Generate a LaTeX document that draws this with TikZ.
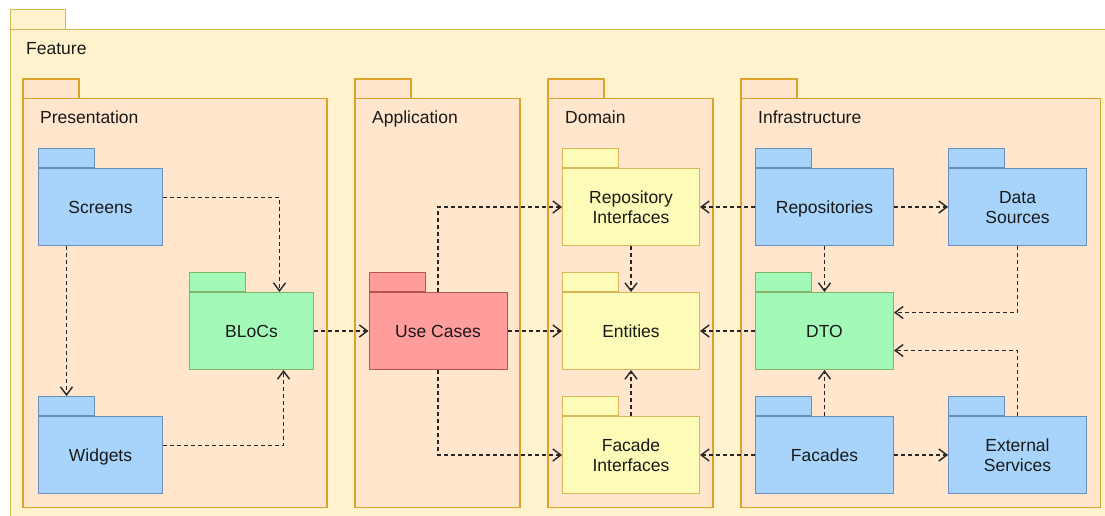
\documentclass[tikz,border=0pt]{standalone}
\usepackage{fontspec}
\setmainfont{Liberation Sans}
\usetikzlibrary{arrows.meta}

\definecolor{featfill}{HTML}{FFF2CC}
\definecolor{featline}{HTML}{D6B656}
\definecolor{layerfill}{HTML}{FFE6CC}
\definecolor{layerline}{HTML}{DCA22A}
\definecolor{bluefill}{HTML}{A8D4FC}
\definecolor{blueline}{HTML}{6C8EBF}
\definecolor{greenfill}{HTML}{A2F9B8}
\definecolor{greenline}{HTML}{82B366}
\definecolor{redfill}{HTML}{FF9C9C}
\definecolor{redline}{HTML}{B85450}
\definecolor{yellowfill}{HTML}{FCFCB8}
\definecolor{yellowline}{HTML}{D6B656}

\tikzset{
  bluepkg/.style={fill=bluefill,draw=blueline},
  greenpkg/.style={fill=greenfill,draw=greenline},
  redpkg/.style={fill=redfill,draw=redline},
  yellowpkg/.style={fill=yellowfill,draw=yellowline},
  twoline/.style={text height=32.1pt},
  dep/.style={draw=black!85,line width=1.4pt,dash pattern=on 4pt off 3pt,
    -{Straight Barb[length=8pt,width=12pt]}},
}

% package: [extra], style, name, left x, tab top y, width, label
\newcommand\pkg[7][]{%
  \node[#2,line width=1pt,minimum width=#6,minimum height=77,inner sep=0pt,
    text height=12.6pt,text depth=-5pt,align=center,anchor=north west,#1]
    (#3) at (#4,#5+19) {#7};
  \node[#2,line width=1pt,minimum width=56,minimum height=19,inner sep=0pt,
    anchor=south west] (#3-tab) at (#3.north west) {};
}

% layer: name, left x, right x, label
\newcommand\layer[4]{%
  \draw[fill=layerfill,draw=layerline,line width=1.1pt] (#2,79) rectangle (#2+56,98.5);
  \draw[fill=layerfill,draw=layerline,line width=1.1pt] (#2,98.5) rectangle (#3,507.5);
  \node[anchor=base west,inner sep=0pt] (#1) at (#2+17,124) {#4};
}

\begin{document}
\begin{tikzpicture}[x=1pt,y=-1pt,font=\fontsize{17.5}{19.5}\selectfont,text=black!90]
  \useasboundingbox (0,0) rectangle (1105,516);
  \begin{scope}
  \clip (0,0) rectangle (1105,516);
  % feature package
  \draw[fill=featfill,draw=featline,line width=1pt] (10,10) rectangle (65,29.5);
  \draw[fill=featfill,draw=featline,line width=1pt] (10,29.5) rectangle (1130,540);
  \end{scope}
  \node[anchor=base west,inner sep=0pt] (feature) at (26,54.5) {Feature};

  % layers
  \layer{pres}{23}{327}{Presentation}
  \layer{app}{355}{520}{Application}
  \layer{dom}{548}{713}{Domain}
  \layer{infra}{741}{1100.5}{Infrastructure}

  % presentation
  \pkg{bluepkg}{scr}{38}{149}{124}{Screens}
  \pkg{bluepkg}{wid}{38}{397}{124}{Widgets}
  \pkg{greenpkg}{bloc}{189}{273}{124}{BLoCs}

  % application
  \pkg{redpkg}{uc}{368.5}{273}{138}{Use Cases}

  % domain
  \pkg[twoline]{yellowpkg}{ri}{562}{149}{137}{Repository\\Interfaces}
  \pkg{yellowpkg}{ent}{562}{273}{137}{Entities}
  \pkg[twoline]{yellowpkg}{fi}{562}{397}{137}{Facade\\Interfaces}

  % infrastructure
  \pkg{bluepkg}{repo}{755}{149}{138}{Repositories}
  \pkg[twoline]{bluepkg}{ds}{948}{149}{138}{Data\\Sources}
  \pkg{greenpkg}{dto}{755}{273}{138}{DTO}
  \pkg{bluepkg}{fac}{755}{397}{138}{Facades}
  \pkg[twoline]{bluepkg}{ext}{948}{397}{138}{External\\Services}

  % dependencies
  \draw[dep] ([yshift=9.5pt]scr.east) -| ([xshift=28pt]bloc.north);
  \draw[dep] (scr.south -| wid-tab.north) -- (wid-tab.north);
  \draw[dep] ([yshift=9.5pt]wid.east) -| ([xshift=32pt]bloc.south);
  \draw[dep] (bloc.east) -- (uc.west);
  \draw[dep] (uc.north) |- (ri.west);
  \draw[dep] (uc.east) -- (ent.west);
  \draw[dep] (uc.south) |- (fi.west);
  \draw[dep] (ri.south) -- (ent.north);
  \draw[dep] (fi.north) -- (ent.south);
  \draw[dep] (repo.west) -- (ri.east);
  \draw[dep] (repo.east) -- (ds.west);
  \draw[dep] (repo.south) -- (dto.north);
  \draw[dep] (ds.south) |- ([yshift=18.5pt]dto.east);
  \draw[dep] (dto.west) -- (ent.east);
  \draw[dep] (fac.north) -- (dto.south);
  \draw[dep] (ext.north) |- ([yshift=-19.5pt]dto.east);
  \draw[dep] (fac.west) -- (fi.east);
  \draw[dep] (fac.east) -- (ext.west);
\end{tikzpicture}
\end{document}
